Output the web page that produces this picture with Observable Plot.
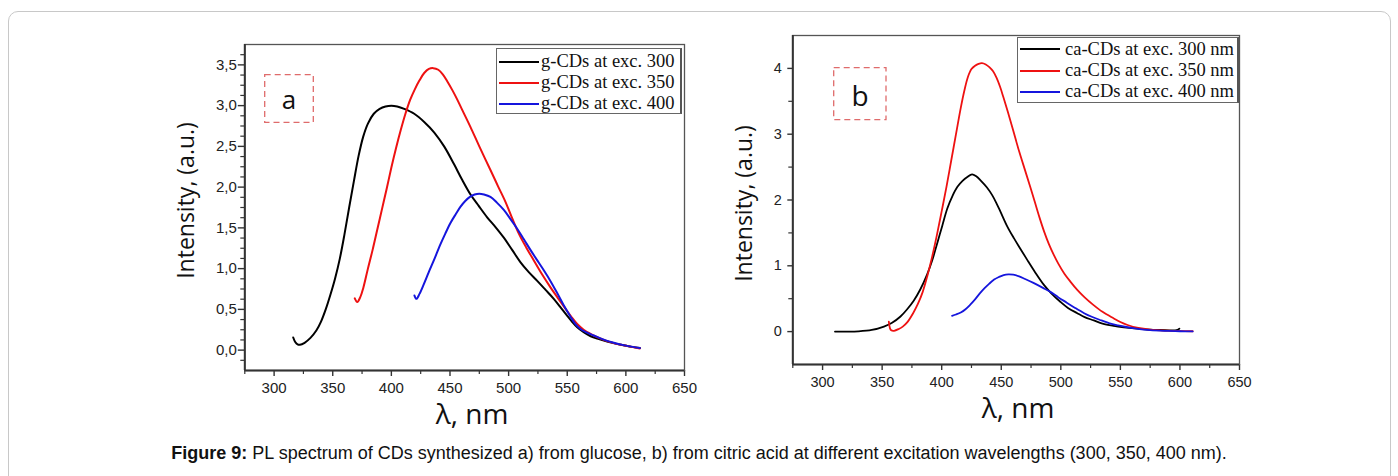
<!DOCTYPE html>
<html><head><meta charset="utf-8">
<script src="https://cdn.jsdelivr.net/npm/d3@7"></script>
<script src="https://cdn.jsdelivr.net/npm/@observablehq/plot@0.6"></script>
<style>
body{margin:0;background:#fff;width:1398px;height:476px;overflow:hidden;position:relative;font-family:"Liberation Sans",Arial,sans-serif;}
#border{position:absolute;left:8px;top:11px;width:1381px;height:520px;border:1px solid #c8c8c8;border-radius:10px;}
.panel{position:absolute;}
.legend{position:absolute;border:1px solid #666;border-right:2px solid #555;background:#fff;box-sizing:border-box;}
.row{position:absolute;left:0;height:21px;font-family:"Liberation Serif","Times New Roman",serif;font-size:18.5px;color:#111;white-space:nowrap;}
.row span.ln{position:absolute;height:2px;}
.row span.tx{position:absolute;line-height:21px;top:-10.5px;}
.lab{position:absolute;overflow:visible;}
#caption{position:absolute;left:0;width:1398px;top:443px;text-align:center;font-size:18px;color:#111;font-family:"Liberation Sans",Arial,sans-serif;}
</style></head>
<body>
<div id="border"></div>
<div id="pa" class="panel" style="left:150px;top:20px"></div>
<div id="pb" class="panel" style="left:700px;top:15px"></div>
<div id="legA" class="legend" style="left:495.6px;top:48.3px;width:186px;height:66px"></div>
<div id="legB" class="legend" style="left:1016.7px;top:36.7px;width:222px;height:66px"></div>
<svg class="lab" style="left:264px;top:74px" width="50" height="49"><rect x="0.7" y="0.7" width="48.6" height="47.6" fill="none" stroke="#df6b6b" stroke-width="1.3" stroke-dasharray="6,4"/><text x="25" y="25" text-anchor="middle" dominant-baseline="central" font-family="Open Sans, sans-serif" font-size="26" fill="#111">a</text></svg>
<svg class="lab" style="left:832.7px;top:67.3px" width="54" height="54"><rect x="0.7" y="0.7" width="52.3" height="52" fill="none" stroke="#df6b6b" stroke-width="1.3" stroke-dasharray="6,4"/><text x="27" y="28" text-anchor="middle" dominant-baseline="central" font-family="Open Sans, sans-serif" font-size="28" fill="#111">b</text></svg>
<div id="caption"><b>Figure 9:</b> PL spectrum of CDs synthesized a) from glucose, b) from citric acid at different excitation wavelengths (300, 350, 400 nm).</div>
<script>
// ---- data: [wavelength nm, intensity a.u.] ----
const g300 = [[316.3,0.155],[318,0.1],[320,0.07],[322,0.065],[326,0.09],[331,0.15],[336,0.24],[340,0.35],[344,0.5],[348,0.68],[352,0.88],[356,1.12],[360,1.42],[364,1.75],[368,2.07],[372,2.38],[376,2.62],[380,2.78],[385,2.9],[390,2.96],[395,2.99],[400,3.0],[405,2.99],[411,2.96],[419.5,2.9],[428,2.8],[436.6,2.67],[445,2.5],[453.5,2.28],[460,2.1],[467.5,1.91],[474.5,1.77],[481.7,1.63],[488.8,1.51],[495.9,1.38],[503,1.23],[510,1.08],[517,0.96],[524.4,0.85],[531.5,0.74],[538.5,0.63],[544,0.53],[550,0.42],[554,0.35],[558.5,0.28],[564,0.22],[570,0.17],[577,0.135],[584,0.105],[591,0.08],[598,0.06],[605,0.04],[611.9,0.025]];
const g350 = [[368.8,0.635],[370.9,0.59],[373.5,0.65],[376,0.76],[380,1.0],[384,1.23],[388,1.48],[392,1.73],[396,1.98],[400,2.24],[404,2.48],[408,2.7],[412,2.9],[416,3.07],[420,3.2],[424,3.31],[428,3.4],[432,3.45],[435.7,3.46],[440,3.44],[444,3.38],[448,3.29],[452,3.19],[456,3.08],[460,2.96],[467.4,2.74],[475,2.5],[484.5,2.21],[491,2.01],[497.3,1.82],[503,1.62],[508.7,1.43],[515,1.26],[521.5,1.1],[528.5,0.93],[535.7,0.77],[543,0.62],[549.9,0.48],[554,0.4],[558.5,0.32],[564,0.25],[569.8,0.2],[577,0.15],[584,0.11],[591,0.08],[598,0.06],[605,0.04],[611.9,0.02]];
const g400 = [[419.7,0.67],[421.4,0.63],[424,0.69],[427.7,0.81],[432,0.96],[436.2,1.1],[441.9,1.3],[446,1.43],[450.4,1.56],[455,1.67],[459,1.76],[463,1.83],[467,1.88],[471,1.91],[475,1.92],[479,1.91],[484.5,1.88],[490,1.81],[495.9,1.72],[501,1.62],[507.3,1.49],[513,1.36],[518.6,1.23],[524,1.11],[530,0.98],[536,0.84],[541.4,0.7],[547,0.55],[552.8,0.41],[557,0.32],[561.3,0.26],[566,0.22],[572.6,0.18],[580,0.135],[589.7,0.09],[600,0.055],[611.9,0.025]];
const ca300 = [[310.4,0],[320,0],[330,0.004],[341.3,0.025],[351.5,0.077],[358,0.13],[365.4,0.23],[371,0.34],[376.5,0.47],[382,0.64],[387.8,0.87],[392,1.08],[396.2,1.34],[400.5,1.61],[404.7,1.87],[409,2.06],[413.2,2.2],[417.5,2.29],[421.5,2.35],[425.5,2.39],[429,2.36],[433,2.29],[438,2.19],[442.5,2.07],[446,1.95],[449.4,1.82],[455,1.6],[460.6,1.42],[466,1.26],[471.8,1.09],[478.5,0.9],[485.8,0.71],[491.6,0.59],[499.8,0.45],[506,0.36],[513.8,0.28],[520,0.22],[527.7,0.17],[535,0.12],[544.5,0.086],[553,0.065],[561.9,0.048],[571,0.035],[581.4,0.026],[591,0.02],[597,0.022],[599.5,0.045]];
const ca350 = [[355.6,0.15],[356.6,0.05],[357.6,0.02],[360,0.012],[364,0.04],[367.3,0.076],[371,0.14],[376,0.28],[380,0.42],[384,0.6],[388,0.85],[392,1.14],[396,1.47],[400,1.83],[404,2.2],[408,2.6],[412,3.0],[416,3.4],[419,3.66],[422,3.87],[425,3.99],[428,4.04],[431,4.07],[433.8,4.08],[437,4.06],[440,4.02],[443,3.96],[446,3.86],[449,3.72],[452,3.55],[455.5,3.34],[459.8,3.07],[465,2.74],[470,2.45],[474.3,2.2],[478,1.98],[482,1.74],[486,1.52],[490,1.33],[494,1.17],[498,1.03],[503,0.88],[508,0.76],[514,0.63],[520,0.52],[527,0.41],[535,0.3],[544.5,0.2],[550,0.145],[556,0.1],[565,0.055],[575,0.03],[590,0.015],[610.7,0.005]];
const ca400 = [[408.7,0.24],[412,0.26],[416,0.29],[420,0.34],[424,0.41],[428,0.49],[432,0.58],[436,0.66],[440,0.73],[444,0.79],[448,0.83],[452,0.86],[456,0.87],[460,0.865],[465,0.84],[470,0.8],[477,0.74],[485,0.665],[491.6,0.6],[498,0.52],[505,0.44],[512,0.36],[519.6,0.28],[526,0.225],[534,0.17],[541,0.125],[548,0.095],[555,0.07],[562,0.05],[575,0.022],[590,0.01],[600,0.005],[610.7,0.002]];

const seriesA = ["g-CDs at exc. 300","g-CDs at exc. 350","g-CDs at exc. 400"];
const seriesB = ["ca-CDs at exc. 300 nm","ca-CDs at exc. 350 nm","ca-CDs at exc. 400 nm"];
const colors = ["#000000","#ee1111","#1515dd"];

const xMajor = [300,350,400,450,500,550,600,650];
const xMinor = [275,325,375,425,475,525,575,625];
const aYMajor = [0,0.5,1,1.5,2,2.5,3,3.5];
const aYMinor = [-0.125,0.125,0.25,0.375,0.625,0.75,0.875,1.125,1.25,1.375,1.625,1.75,1.875,2.125,2.25,2.375,2.625,2.75,2.875,3.125,3.25,3.375,3.625];
const bYMajor = [0,1,2,3,4];
const bYMinor = [0.5,1.5,2.5,3.5];

const tickFont = "Liberation Sans, Arial, sans-serif";
const titleFont = "Open Sans, sans-serif";

function panel(o){
  return Plot.plot({
    width:560, height:420,
    marginLeft:o.ml, marginRight:o.mr, marginTop:o.mt, marginBottom:o.mb,
    x:{domain:[275,650]}, y:{domain:o.ydom},
    style:{fontFamily:tickFont, color:"#222", background:"transparent", overflow:"visible"},
    marks:[
      Plot.axisX(xMajor,{tickSize:6, tickPadding:6, fontSize:o.fs, tickFormat:d=>String(d), stroke:"#333", strokeWidth:1.4, label:null}),
      Plot.axisX(xMinor,{tickSize:4, tickFormat:()=>"", stroke:"#333", strokeWidth:1.2, label:null}),
      Plot.axisY(o.yMajor,{tickSize:o.yts, tickPadding:o.ytp, fontSize:o.fs, tickFormat:o.fmt, stroke:"#333", strokeWidth:1.4, label:null}),
      Plot.axisY(o.yMinor,{tickSize:4, tickFormat:()=>"", stroke:"#333", strokeWidth:1.2, label:null}),
      Plot.frame({stroke:"#555", strokeWidth:1.3}),
      Plot.ruleX([275],{stroke:"#333", strokeWidth:2}),
      Plot.ruleY([o.ydom[0]],{stroke:"#333", strokeWidth:2}),
      ...o.data.map((s,i)=>Plot.line(s,{x:d=>d[0], y:d=>d[1], stroke:colors[i], strokeWidth:o.lw, curve:"catmull-rom"})),
      Plot.text([o.ytitle],{text:d=>d, frameAnchor:"left", textAnchor:"middle", lineAnchor:"middle", rotate:-90, dx:o.ytdx, dy:o.ytdy, fontSize:23, fontFamily:titleFont, fill:"#111"}),
      Plot.text([o.xtitle],{text:d=>d, frameAnchor:"bottom", textAnchor:"middle", lineAnchor:"middle", dx:o.xtdx, dy:45, fontSize:28, fontFamily:titleFont, fill:"#111"})
    ]
  });
}

document.getElementById("pa").appendChild(panel({
  ml:94.3, mr:26, mt:24, mb:70, ydom:[-0.25,3.75], fs:15,
  yMajor:aYMajor, yMinor:aYMinor, yts:6.5, ytp:1.5, fmt:d=>d.toFixed(1).replace(".",","),
  data:[g300,g350,g400], lw:2,
  ytitle:"Intensity, (a.u.)", ytdx:-58.5, ytdy:-7, xtitle:"λ, nm", xtdx:7.5
}));
document.getElementById("pb").appendChild(panel({
  ml:92.3, mr:21, mt:20, mb:71, ydom:[-0.5,4.5], fs:14.5,
  yMajor:bYMajor, yMinor:bYMinor, yts:5, ytp:6, fmt:d=>String(d),
  data:[ca300,ca350,ca400], lw:1.8,
  ytitle:"Intensity, (a.u.)", ytdx:-48.3, ytdy:3.5, xtitle:"λ, nm", xtdx:2
}));

function legend(id, names, rows, lineX0, lineX1, textX){
  const el = document.getElementById(id);
  names.forEach((n,i)=>{
    const r = document.createElement("div");
    r.className = "row";
    r.style.top = rows[i] + "px";
    r.innerHTML = `<span class="ln" style="left:${lineX0}px;width:${lineX1-lineX0}px;top:-1px;background:${colors[i]}"></span><span class="tx" style="left:${textX}px">${n}</span>`;
    el.appendChild(r);
  });
}
legend("legA", seriesA, [12.4,33.4,54.4], 2.4, 42.4, 44.4);
legend("legB", seriesB, [11.6,33.3,54.3], 2.8, 42.3, 47.3);
</script>
</body></html>
